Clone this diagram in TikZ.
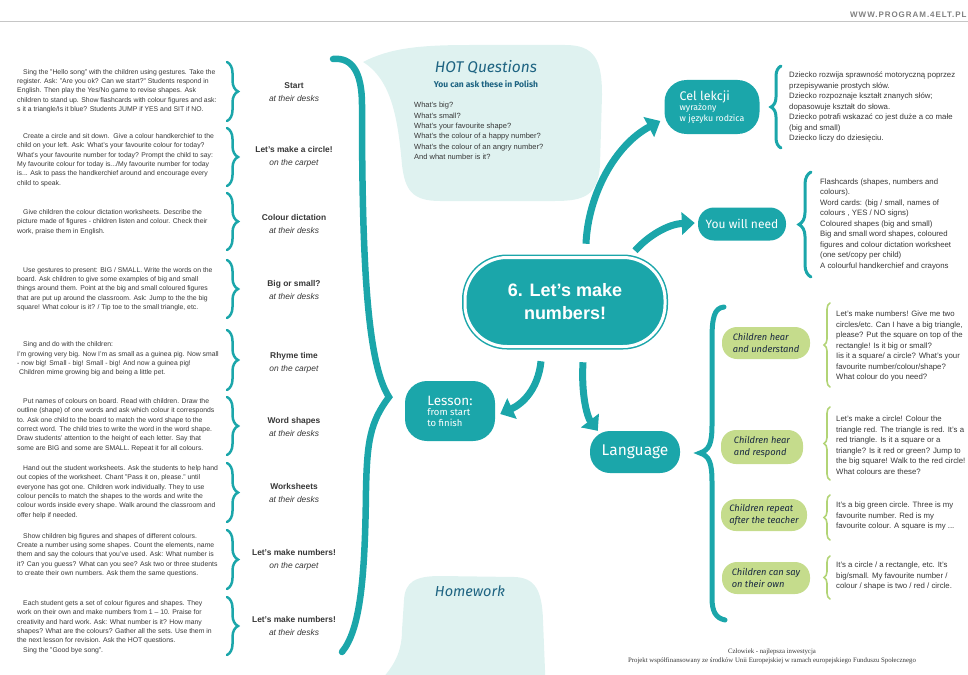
\documentclass[tikz,border=0pt]{standalone}
\usepackage{fontspec}
\setmainfont{Liberation Sans}
\newfontfamily\handfont{Fira Sans}
\newfontfamily\footfont{Liberation Serif}
\usetikzlibrary{arrows.meta,decorations.pathreplacing}

\definecolor{tealmain}{RGB}{27,166,170}
\definecolor{mint}{RGB}{223,242,240}
\definecolor{leafgreen}{RGB}{197,220,140}
\definecolor{leafline}{RGB}{178,212,118}
\definecolor{inkgray}{RGB}{55,55,55}
\definecolor{hotblue}{RGB}{30,100,130}
\definecolor{navyink}{RGB}{25,40,65}

\begin{document}
\begin{tikzpicture}[
    x=1pt, y=-1pt,
    notetext/.style = {
      anchor=west, align=left, inner sep=0pt, text=inkgray,
      font=\fontsize{6.85}{9.3}\selectfont
    },
    sidetext/.style = {
      anchor=west, align=left, inner sep=0pt, text=inkgray,
      font=\fontsize{7.8}{10.5}\selectfont
    },
    stagebox/.style = {
      align=center, inner sep=0pt, text=inkgray,
      font=\fontsize{8.4}{13}\selectfont
    },
    lbrace/.style = {
      decorate, decoration={brace, amplitude=11pt},
      draw=tealmain, line width=2.5pt, line cap=round
    },
    rbrace/.style = {lbrace, line width=3pt},
    gbrace/.style = {
      decorate, decoration={brace, amplitude=6pt},
      draw=leafline, line width=1.6pt, line cap=round
    },
    bigbrace/.style = {draw=tealmain, line width=6.5pt, line cap=round},
    bigarrow/.style = {
      draw=tealmain, line width=7pt,
      -{Triangle[length=13pt, width=22pt]}
    },
    tealblob/.style = {
      fill=tealmain, rounded corners=18pt, text=white,
      align=left, inner sep=4pt, font=\handfont
    },
    leafblob/.style = {
      fill=leafgreen, rounded corners=15pt, text=navyink, align=left,
      inner sep=3pt, font=\handfont\itshape\fontsize{9.3}{11.5}\selectfont
    }
  ]
  \useasboundingbox (0,0) rectangle (968,674);
  \clip (0,0) rectangle (968,674);

  % header
  \node[anchor=east, text=gray, font=\bfseries\fontsize{8}{8}\selectfont\addfontfeature{LetterSpace=12}]
    (site) at (970,15) {WWW.PROGRAM.4ELT.PL};
  \draw[gray!45, line width=1pt] (0,22) -- (968,22);

  % speech bubbles
  \fill[mint] (363,62) .. controls (390,48) and (420,45) .. (470,45) -- (565,45)
    .. controls (595,45) and (602,60) .. (602,95) -- (600,165)
    .. controls (598,195) and (585,201) .. (555,201) -- (440,201)
    .. controls (412,201) and (405,190) .. (402,165)
    .. controls (398,120) and (392,80) .. cycle;
  \fill[mint] (365,695) .. controls (392,672) and (402,655) .. (402,630) -- (404,600)
    .. controls (405,582) and (415,576) .. (440,576) -- (515,577)
    .. controls (535,578) and (542,590) .. (543,620) -- (546,695) -- cycle;

  \node[font=\handfont\itshape\fontsize{15.5}{15.5}\selectfont, text=hotblue] (hot) at (486,67) {HOT Questions};
  \node[font=\handfont\bfseries\fontsize{8.5}{8.5}\selectfont, text=hotblue] (hotsub) at (486,84) {You can ask these in Polish};
  \node[sidetext, font=\fontsize{7.5}{10.4}\selectfont] (hotq) at (414,131) {What's big?\\What's small?\\What's your favourite shape?\\What's the colour of a happy number?\\What's the colour of an angry number?\\And what number is it?};
  \node[font=\handfont\itshape\fontsize{14.5}{14.5}\selectfont, text=hotblue] (hw) at (470,591) {Homework};

  % lesson stages
  \node[notetext] (t1) at (17,91) {\hspace*{6pt}Sing the "Hello song" with the children using gestures. Take the\\register. Ask: "Are you ok? Can we start?" Students respond in\\English. Then play the Yes/No game to revise shapes. Ask\\children to stand up. Show flashcards with colour figures and ask:\\s it a triangle/Is it blue? Students JUMP if YES and SIT if NO.};
  \node[stagebox] (s1) at (294,92) {\textbf{Start}\\\textit{at their desks}};
  \draw[lbrace] (227,62) -- (227,121);

  \node[notetext] (t2) at (17,160) {\hspace*{6pt}Create a circle and sit down.\ \ Give a colour handkerchief to the\\child on your left. Ask: What's your favourite colour for today?\\What's your favourite number for today? Prompt the child to say:\\My favourite colour for today is.../My favourite number for today\\is... Ask to pass the handkerchief around and encourage every\\child to speak.};
  \node[stagebox] (s2) at (294,157) {\textbf{Let's make a circle!}\\\textit{on the carpet}};
  \draw[lbrace] (227,128) -- (227,186);

  \node[notetext] (t3) at (17,222) {\hspace*{6pt}Give children the colour dictation worksheets. Describe the\\picture made of figures - children listen and colour. Check their\\work, praise them in English.};
  \node[stagebox] (s3) at (294,224) {\textbf{Colour dictation}\\\textit{at their desks}};
  \draw[lbrace] (227,193) -- (227,250);

  \node[notetext] (t4) at (17,289) {\hspace*{6pt}Use gestures to present: BIG / SMALL. Write the words on the\\board. Ask children to give some examples of big and small\\things around them. Point at the big and small coloured figures\\that are put up around the classroom. Ask: Jump to the the big\\square! What colour is it? / Tip toe to the small triangle, etc.};
  \node[stagebox] (s4) at (294,290) {\textbf{Big or small?}\\\textit{at their desks}};
  \draw[lbrace] (227,260) -- (227,318);

  \node[notetext] (t5) at (17,359) {\hspace*{6pt}Sing and do with the children:\\I'm growing very big. Now I'm as small as a guinea pig. Now small\\- now big! Small - big! Small - big! And now a guinea pig!\\\hspace*{2pt}Children mime growing big and being a little pet.};
  \node[stagebox] (s5) at (294,363) {\textbf{Rhyme time}\\\textit{on the carpet}};
  \draw[lbrace] (227,330) -- (227,390);

  \node[notetext] (t6) at (17,425) {\hspace*{6pt}Put names of colours on board. Read with children. Draw the\\outline (shape) of one words and ask which colour it corresponds\\to. Ask one child to the board to match the word shape to the\\correct word. The child tries to write the word in the word shape.\\Draw students' attention to the height of each letter. Say that\\some are BIG and some are SMALL. Repeat it for all colours.};
  \node[stagebox] (s6) at (294,427) {\textbf{Word shapes}\\\textit{at their desks}};
  \draw[lbrace] (227,397) -- (227,455);

  \node[notetext] (t7) at (17,492) {\hspace*{6pt}Hand out the student worksheets. Ask the students to help hand\\out copies of the worksheet. Chant "Pass it on, please." until\\everyone has got one. Children work individually. They to use\\colour pencils to match the shapes to the words and write the\\colour words inside every shape. Walk around the classroom and\\offer help if needed.};
  \node[stagebox] (s7) at (294,493) {\textbf{Worksheets}\\\textit{at their desks}};
  \draw[lbrace] (227,463) -- (227,522);

  \node[notetext] (t8) at (17,555) {\hspace*{6pt}Show children big figures and shapes of different colours.\\Create a number using some shapes. Count the elements, name\\them and say the colours that you've used. Ask: What number is\\it? Can you guess? What can you see? Ask two or three students\\to create their own numbers. Ask them the same questions.};
  \node[stagebox] (s8) at (294,560) {\textbf{Let's make numbers!}\\\textit{on the carpet}};
  \draw[lbrace] (227,530) -- (227,589);

  \node[notetext] (t9) at (17,627) {\hspace*{6pt}Each student gets a set of colour figures and shapes. They\\work on their own and make numbers from 1 -- 10. Praise for\\creativity and hard work. Ask: What number is it? How many\\shapes? What are the colours? Gather all the sets. Use them in\\the next lesson for revision. Ask the HOT questions.\\\hspace*{6pt}Sing the "Good bye song".};
  \node[stagebox] (s9) at (294,626) {\textbf{Let's make numbers!}\\\textit{at their desks}};
  \draw[lbrace] (227,597) -- (227,655);

  % big brace of the lesson
  \draw[bigbrace] (333,59) .. controls (352,57) and (362,72) .. (362,105)
    .. controls (362,250) and (366,362) .. (389,397)
    .. controls (370,422) and (367,442) .. (366,490)
    .. controls (365,580) and (360,630) .. (342,652);

  % main topic and branches
  \node[fill=tealmain, draw=tealmain, line width=1.5pt, double=white, double distance=3pt,
    rounded corners=42pt, minimum width=200pt, minimum height=89pt, text=white,
    align=center, font=\bfseries\fontsize{18}{23}\selectfont]
    (cen) at (565,302) {6. Let's make\\numbers!};

  \node[tealblob, minimum width=90pt, minimum height=60pt, rounded corners=22pt,
    font=\handfont\fontsize{9.5}{10.5}\selectfont]
    (lesson) at (450,411) {{\fontsize{13.5}{13.5}\selectfont Lesson:}\\from start\\to finish};
  \node[tealblob, minimum width=95pt, minimum height=54pt, rounded corners=22pt,
    font=\handfont\fontsize{8.8}{10.5}\selectfont]
    (cel) at (712,107) {{\fontsize{12.5}{12.5}\selectfont Cel lekcji}\\wyrażony\\w języku rodzica};
  \node[tealblob, minimum width=88pt, minimum height=33pt, rounded corners=16pt,
    font=\handfont\fontsize{12}{12}\selectfont]
    (need) at (742,224) {You will need};
  \node[tealblob, minimum width=90pt, minimum height=42pt, rounded corners=20pt,
    font=\handfont\fontsize{15.5}{15.5}\selectfont]
    (lang) at (635,452) {Language};

  \draw[bigarrow] ([shift={(-24,14)}]cen.south) .. controls (538,390) and (522,404) .. ([shift={(5,3)}]lesson.east);
  \draw[bigarrow] ([shift={(18,15)}]cen.south) .. controls (581,398) and (588,418) .. ([shift={(8,0)}]lang.north west);
  \draw[bigarrow] ([shift={(21,-13)}]cen.north) .. controls (588,195) and (615,145) .. ([shift={(-4,14)}]cel.west);
  \draw[bigarrow] ([shift={(70,-6)}]cen.north) .. controls (648,236) and (668,224) .. ([shift={(-3,-1)}]need.west);

  % lesson aims and materials
  \draw[rbrace, decoration={amplitude=10pt}] (781,148) -- (781,66);
  \node[sidetext] (celtext) at (789,107) {Dziecko rozwija sprawność motoryczną poprzez\\przepisywanie prostych słów.\\Dziecko rozpoznaje kształt znanych słów;\\dopasowuje kształt do słowa.\\Dziecko potrafi wskazać co jest duże a co małe\\(big and small)\\Dziecko liczy do dziesięciu.};
  \draw[rbrace, decoration={amplitude=12pt}] (811,277) -- (811,172);
  \node[sidetext] (needtext) at (820,224) {Flashcards (shapes, numbers and\\colours).\\Word cards: (big / small, names of\\colours , YES / NO signs)\\Coloured shapes (big and small)\\Big and small word shapes, coloured\\figures and colour dictation worksheet\\(one set/copy per child)\\A colourful handkerchief and crayons};

  % language
  \draw[bigbrace, line width=5pt] (724,307) .. controls (714,308) and (712,318) .. (712,340) -- (712,425)
    .. controls (712,444) and (709,450) .. (700,453)
    .. controls (709,456) and (712,462) .. (712,482) -- (712,598)
    .. controls (712,612) and (716,618) .. (725,620);

  \node[leafblob, minimum width=88pt, minimum height=32pt] (hear) at (766,343) {Children hear\\and understand};
  \node[leafblob, minimum width=82pt, minimum height=34pt] (respond) at (762,447) {Children hear\\and respond};
  \node[leafblob, minimum width=86pt, minimum height=32pt] (repeat) at (764,515) {Children repeat\\after the teacher};
  \node[leafblob, minimum width=88pt, minimum height=32pt] (own) at (766,578) {Children can say\\on their own};

  \draw[gbrace] (830,387) -- (830,303);
  \node[sidetext] (heartext) at (836,346) {Let's make numbers! Give me two\\circles/etc. Can I have a big triangle,\\please? Put the square on top of the\\rectangle! Is it big or small?\\Iis it a square/ a circle? What's your\\favourite number/colour/shape?\\What colour do you need?};
  \draw[gbrace] (830,480) -- (830,407);
  \node[sidetext] (respondtext) at (836,445) {Let's make a circle! Colour the\\triangle red. The triangle is red. It's a\\red triangle. Is it a square or a\\triangle? Is it red or green? Jump to\\the big square! Walk to the red circle!\\What colours are these?};
  \draw[gbrace] (830,540) -- (830,495);
  \node[sidetext] (repeattext) at (836,516) {It's a big green circle. Three is my\\favourite number. Red is my\\favourite colour. A square is my ...};
  \draw[gbrace] (830,599) -- (830,556);
  \node[sidetext] (owntext) at (836,576) {It's a circle / a rectangle, etc. It's\\big/small. My favourite number /\\colour / shape is two / red / circle.};

  % footer
  \node[align=center, text=inkgray, font=\footfont\fontsize{6.8}{9}\selectfont]
    (foot) at (772,656) {Człowiek - najlepsza inwestycja\\Projekt współfinansowany ze środków Unii Europejskiej w ramach europejskiego Funduszu Społecznego};

\end{tikzpicture}
\end{document}
